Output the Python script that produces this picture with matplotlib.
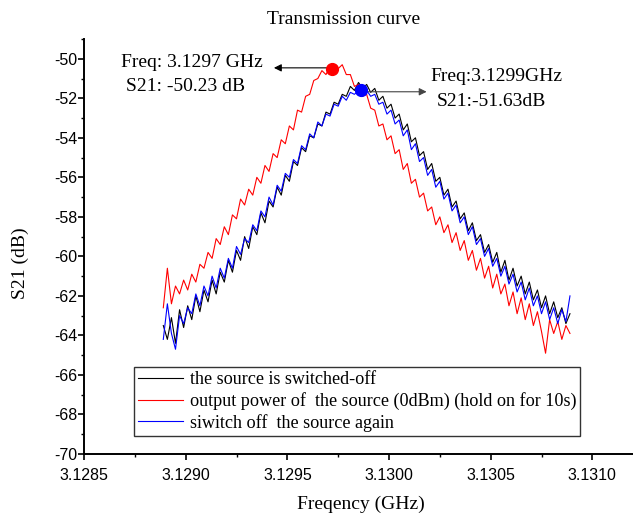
import numpy as np
import matplotlib
matplotlib.use("Agg")
import matplotlib.pyplot as plt
from matplotlib.ticker import MultipleLocator, FormatStrFormatter

# frequency grid (GHz), 101 points from 3.12889 to 3.13089
freq_start = 3.12889
freq_step = 0.00002
n_points = 101

s21_off = [
    -63.5, -64.2, -63.1, -64.4, -62.7, -63.6, -62.5, -63.2, -62.0, -62.8,
    -61.7, -62.3, -61.2, -61.9, -60.8, -61.3, -60.2, -60.8, -59.7, -60.2,
    -59.0, -59.6, -58.5, -58.9, -57.8, -58.3, -57.2, -57.5, -56.5, -56.9,
    -55.9, -56.2, -55.2, -55.4, -54.5, -54.7, -53.9, -54.0, -53.3, -53.4,
    -52.7, -52.8, -52.2, -52.3, -51.8, -51.9, -51.4, -51.6, -51.2, -51.5,
    -51.3, -51.7, -51.5, -52.1, -51.9, -52.5, -52.3, -53.0, -52.8, -53.6,
    -53.3, -54.2, -54.0, -54.9, -54.7, -55.6, -55.3, -56.2, -56.0, -56.9,
    -56.6, -57.5, -57.2, -58.1, -57.8, -58.7, -58.3, -59.2, -58.9, -59.8,
    -59.4, -60.3, -59.8, -60.8, -60.2, -61.2, -60.6, -61.5, -61.0, -61.9,
    -61.3, -62.2, -61.7, -62.6, -62.0, -62.9, -62.3, -63.1, -62.6, -63.4,
    -62.9,
]

s21_on = [
    -62.6, -60.6, -62.4, -61.5, -61.9, -61.2, -61.7, -60.9, -61.3, -60.4,
    -60.6, -59.8, -60.1, -59.1, -59.4, -58.5, -58.9, -57.9, -58.1, -57.1,
    -57.4, -56.6, -56.9, -56.0, -56.3, -55.4, -55.7, -54.8, -55.0, -54.1,
    -54.3, -53.4, -53.6, -52.6, -52.7, -51.9, -51.8, -51.1, -51.0, -50.6,
    -50.8, -50.4, -50.3, -50.5, -50.3, -50.8, -50.8, -51.4, -51.3, -51.9,
    -51.8, -52.5, -52.6, -53.4, -53.3, -54.1, -53.9, -54.8, -54.6, -55.6,
    -55.3, -56.3, -56.1, -57.0, -56.8, -57.7, -57.5, -58.4, -58.0, -58.8,
    -58.4, -59.3, -58.8, -59.7, -59.2, -60.2, -59.7, -60.7, -60.1, -61.1,
    -60.5, -61.6, -60.9, -61.9, -61.4, -62.5, -61.8, -62.9, -62.1, -63.2,
    -62.4, -63.5, -62.8, -63.8, -64.9, -63.2, -63.9, -63.3, -64.2, -63.5,
    -63.9,
]

s21_again = [
    -64.2, -62.4, -63.9, -64.7, -63.0, -63.4, -62.6, -62.9, -61.9, -62.5,
    -61.5, -62.0, -61.0, -61.6, -60.6, -61.1, -60.1, -60.6, -59.5, -59.9,
    -59.1, -59.3, -58.4, -58.7, -57.7, -58.0, -57.0, -57.4, -56.4, -56.7,
    -55.8, -56.0, -55.1, -55.3, -54.4, -54.6, -53.8, -54.0, -53.2, -53.4,
    -52.8, -52.9, -52.3, -52.4, -51.9, -52.1, -51.7, -51.8, -51.6, -51.7,
    -51.6, -51.9, -51.8, -52.3, -52.2, -52.8, -52.6, -53.3, -53.1, -53.9,
    -53.6, -54.6, -54.3, -55.2, -55.0, -55.9, -55.6, -56.5, -56.2, -57.1,
    -56.8, -57.7, -57.4, -58.3, -58.0, -58.9, -58.5, -59.4, -59.1, -60.0,
    -59.6, -60.5, -60.1, -61.0, -60.5, -61.4, -60.9, -61.8, -61.3, -62.2,
    -61.6, -62.5, -62.0, -62.9, -62.3, -63.2, -62.6, -63.4, -62.7, -63.3,
    -62.0,
]

labels = [
    "the source is switched-off",
    "output power of  the source (0dBm) (hold on for 10s)",
    "siwitch off  the source again",
]

peak_freq = [3.12972, 3.12986]
peak_s21 = [-50.5, -51.6]

freq = freq_start + freq_step * np.arange(n_points)

plt.rcParams["axes.unicode_minus"] = False
serif = "Liberation Serif"
sans = "Liberation Sans"

fig = plt.figure(figsize=(6.33, 5.14), dpi=100)
ax = fig.add_axes([84 / 633, 1 - 454 / 514, 549 / 633, 415 / 514])

ax.plot(freq, s21_off, color="black", lw=0.8, label=labels[0])
ax.plot(freq, s21_on, color="red", lw=0.8, label=labels[1])
ax.plot(freq, s21_again, color="blue", lw=0.8, label=labels[2])

ax.plot(peak_freq[0], peak_s21[0], "o", color="red", ms=8.5, zorder=5)
ax.plot(peak_freq[1], peak_s21[1], "o", color="blue", ms=8.5, zorder=5)

# arrows to the marker labels
ax.annotate("", xy=(3.129434, -50.46), xytext=(3.12970, -50.46),
            arrowprops=dict(arrowstyle="-|>", color="black", lw=0.8,
                            mutation_scale=11, shrinkA=0, shrinkB=0))
ax.annotate("", xy=(3.130185, -51.67), xytext=(3.12988, -51.67),
            arrowprops=dict(arrowstyle="-|>", color="#444444", lw=0.8,
                            mutation_scale=11, shrinkA=0, shrinkB=0))

ax.text(3.128682, -50.17, "Freq: 3.1297 GHz", family=serif, fontsize=14,
        ha="left", va="center")
ax.text(3.128706, -51.39, "S21: -50.23 dB", family=serif, fontsize=14,
        ha="left", va="center")
ax.text(3.130206, -50.88, "Freq:3.1299GHz", family=serif, fontsize=14,
        ha="left", va="center")
ax.text(3.130235, -52.14, "S21:-51.63dB", family=serif, fontsize=14,
        ha="left", va="center")

ax.set_xlim(3.1285, 3.13120)
ax.set_ylim(-70, -49)
ax.xaxis.set_major_locator(MultipleLocator(0.0005))
ax.xaxis.set_minor_locator(MultipleLocator(0.00025))
ax.xaxis.set_major_formatter(FormatStrFormatter("%.4f"))
ax.yaxis.set_major_locator(MultipleLocator(2))
ax.yaxis.set_minor_locator(MultipleLocator(1))
ax.yaxis.set_major_formatter(FormatStrFormatter("%d"))

for side in ["top", "right"]:
    ax.spines[side].set_visible(False)
for side in ["left", "bottom"]:
    ax.spines[side].set_linewidth(1.4)

ax.tick_params(which="major", direction="out", length=4, width=1.2)
ax.tick_params(which="minor", direction="out", length=2.5, width=1.0)
ax.tick_params(axis="y", which="major", pad=1)
ax.tick_params(axis="x", which="major", pad=6)
for lab in ax.get_xticklabels() + ax.get_yticklabels():
    lab.set_family(sans)
    lab.set_fontsize(11.5)

leg = ax.legend(loc="upper left", bbox_to_anchor=(50 / 549, 87 / 415),
                borderaxespad=0, fancybox=False, framealpha=1,
                edgecolor="#333333", prop={"family": serif, "size": 13.1},
                handlelength=2.5, handletextpad=0.35, labelspacing=0.22,
                borderpad=0.22)
leg.get_frame().set_linewidth(1.0)

fig.text(344 / 633, 1 - 19 / 514, "Transmission curve", family=serif,
         fontsize=14, ha="center", va="center")
fig.text(361 / 633, 1 - 504 / 514, "Freqency (GHz)", family=serif,
         fontsize=14, ha="center", va="center")
fig.text(20 / 633, 1 - 263 / 514, "S21 (dB)", family=serif, fontsize=14,
         ha="center", va="center", rotation=90)

fig.savefig("out.png", dpi=100)
